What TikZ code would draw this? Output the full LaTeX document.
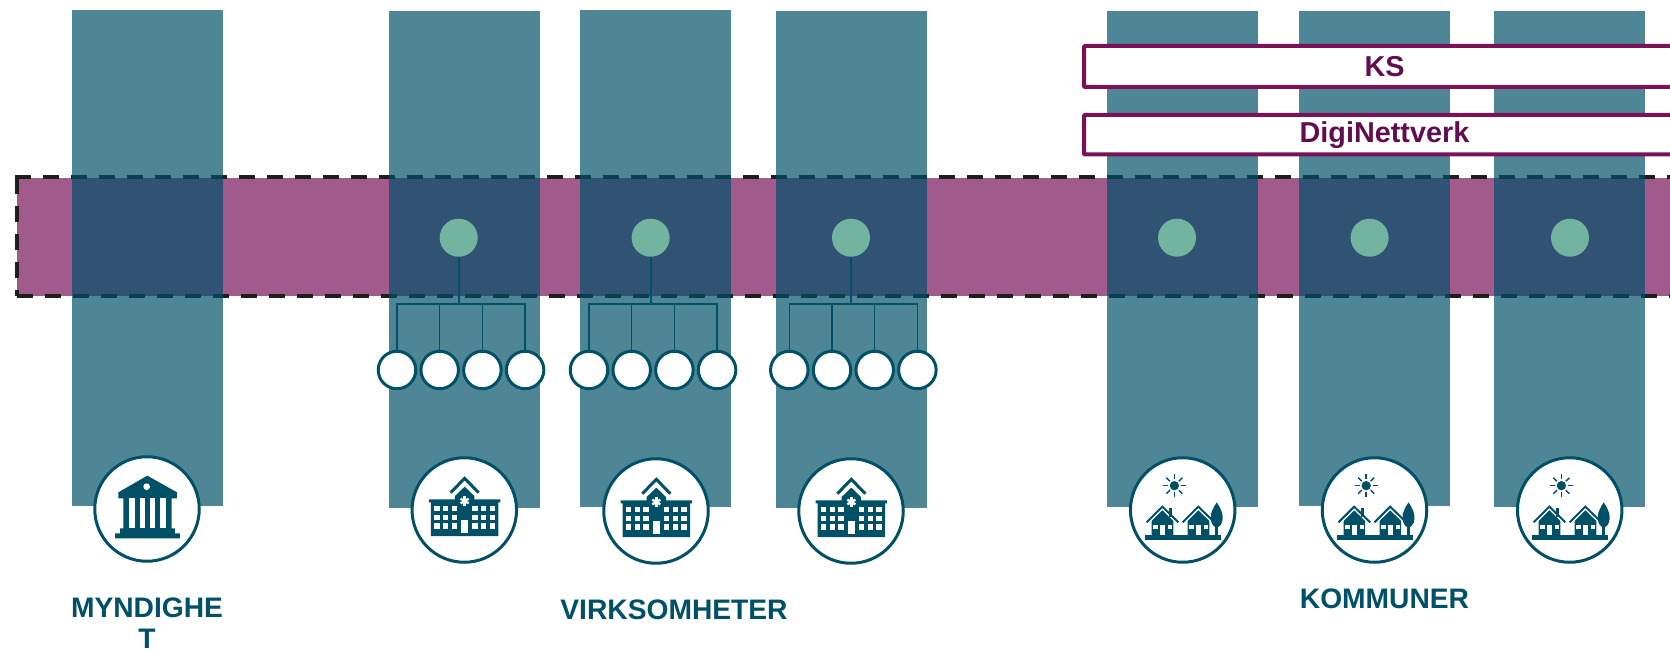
\documentclass[tikz,border=0pt]{standalone}
\usepackage{fontspec}
\setmainfont{Liberation Sans}
\definecolor{deep}{HTML}{005068}
\definecolor{bandc}{HTML}{A05A8C}
\definecolor{greenc}{HTML}{73B4A0}
\definecolor{boxc}{HTML}{7A1259}
\definecolor{boxt}{HTML}{5F0F50}
\definecolor{dashc}{HTML}{1E1E1E}
\tikzset{
  x=1pt,y=-1pt,
  colbar/.style={draw=none,fill=deep,fill opacity=.69,inner sep=0,minimum width=151pt,anchor=north},
  hub/.style={circle,fill=greenc,draw=none,inner sep=0,minimum size=38pt},
  leaf/.style={circle,fill=white,draw=deep,line width=3pt,inner sep=0,minimum size=37.5pt},
  bigc/.style={circle,fill=white,draw=deep,line width=3pt,inner sep=0,minimum size=104.5pt},
  trunk/.style={draw=deep,line width=2pt},
  twig/.style={draw=deep,line width=1.3pt},
  namebox/.style={draw=boxc,line width=4pt,fill=white,rounded corners=1pt,inner sep=0,anchor=north west,minimum width=640pt},
  boxlabel/.style={text=boxt,font=\fontsize{28.8}{33}\selectfont\bfseries,inner sep=0},
  grouplabel/.style={text=deep,font=\fontsize{28.2}{31}\selectfont\bfseries,align=center,inner sep=0},
  bankicon/.pic={
    \begin{scope}[x=.3333pt,y=-.3333pt,shift={(-261,-207)}]
      \fill[deep] (262,107) -- (351,157) -- (351,175) -- (345,175) -- (335,175) -- (335,265) -- (345,265) -- (345,280) -- (360,280) -- (360,295) -- (165,295) -- (165,280) -- (180,280) -- (180,265) -- (190,265) -- (190,175) -- (175,175) -- (175,157) -- cycle;
      \fill[white] (260,140) circle (10);
      \foreach \a in {208,239,270,301} \fill[white] (\a,175) rectangle ++(16,90);
    \end{scope}
  },
  schoolicon/.pic={
    \begin{scope}[x=.3333pt,y=-.3333pt,shift={(-1213,-210)}]
      \draw[deep,line width=3pt] (1172,158) -- (1214,115) -- (1256,158);
      \fill[deep] (1214,140) -- (1243,168) -- (1243,178) -- (1321,178) -- (1321,187) -- (1315,187) -- (1315,288) -- (1113,288) -- (1113,187) -- (1107,187) -- (1107,178) -- (1185,178) -- (1185,168) -- cycle;
      \foreach \a in {1123,1149,1175,1237,1263,1289}
        \foreach \b in {198,224,250} \fill[white] (\a,\b) rectangle ++(16,16);
      \fill[white] (1203,240) rectangle (1225,278);
      \foreach \r in {0,60,120} \draw[white,line width=2.4pt,rotate around={\r:(1214,183)}] (1214,169) -- (1214,197);
    \end{scope}
  },
  villageicon/.pic={
    \begin{scope}[x=.3333pt,y=-.3333pt,shift={(-218,-180)}]
      \fill[deep] (193,107) circle (14);
      \foreach \r in {0,45,...,315} \draw[deep,line width=1.4pt,rotate around={\r:(193,107)}] (193,88) -- (193,73);
      \foreach \d in {0,108} {
        \begin{scope}[shift={(\d,0)}]
          \draw[deep,line width=2pt] (110,217) -- (157,170) -- (205,217);
          \fill[deep] (157,181) -- (190,213) -- (190,258) -- (125,258) -- (125,213) -- cycle;
          \fill[white] (130,226) rectangle (144,238);
          \fill[white] (150,226) rectangle (165,256);
          \fill[white] (173,226) rectangle (187,238);
        \end{scope}
      }
      \fill[deep] (177,175) rectangle (187,200);
      \fill[deep] (105,256) rectangle (333,270);
      \fill[deep] (316,225) rectangle (324,258);
      \fill[deep] (320,157) .. controls (330,172) and (339,188) .. (338,205) .. controls (337,222) and (328,232) .. (320,232) .. controls (312,232) and (303,222) .. (302,205) .. controls (301,188) and (310,172) .. (320,157) -- cycle;
    \end{scope}
  }
}
\begin{document}
\begin{tikzpicture}
\clip (0,0) rectangle (1670,652);
\fill[white] (0,0) rectangle (1670,652);
% band
\fill[bandc] (17,178) rectangle (1680,296.5);
\draw[dashc,line width=4pt,dash pattern=on 16pt off 12pt] (15,177.5) -- (1690,177.5);
\draw[dashc,line width=4pt,dash pattern=on 16pt off 12pt] (17,296.5) -- (1690,296.5);
\draw[dashc,line width=4pt,dash pattern=on 16pt off 12pt] (16.5,178) -- (16.5,296.5);
% columns
\node[colbar,minimum height=496pt] (col0) at (147.5,10) {};
\node[colbar,minimum height=497pt] (col1) at (464.5,11) {};
\node[colbar,minimum height=497pt] (col2) at (655.5,10) {};
\node[colbar,minimum height=497pt] (col3) at (851.5,11) {};
\node[colbar,minimum height=496pt] (col4) at (1182.5,11) {};
\node[colbar,minimum height=495pt] (col5) at (1374.5,11) {};
\node[colbar,minimum height=496pt] (col6) at (1569.5,11) {};
% name boxes
\node[namebox,minimum height=41pt] (ks) at (1082,44) {};
\node[namebox,minimum height=39.5pt] (dn) at (1082,113) {};
\node[boxlabel] (kst) at (1384.5,67) {KS};
\node[boxlabel] (dnt) at (1384.5,135) {DigiNettverk};
% hubs
\node[hub] (h1) at (458.7,237.7) {};
\node[hub] (h2) at (650.6,237.7) {};
\node[hub] (h3) at (851,237.7) {};
\node[hub] (h4) at (1177,237.7) {};
\node[hub] (h5) at (1369.6,237.7) {};
\node[hub] (h6) at (1570,237.7) {};
% trees
\coordinate (b1) at (458.7,304);
\coordinate (b2) at (650.6,304);
\coordinate (b3) at (851,304);
\node[leaf] (l11) at (397,370) {};
\node[leaf] (l12) at (439.7,370) {};
\node[leaf] (l13) at (482.4,370) {};
\node[leaf] (l14) at (525.1,370) {};
\node[leaf] (l21) at (589,370) {};
\node[leaf] (l22) at (631.7,370) {};
\node[leaf] (l23) at (674.4,370) {};
\node[leaf] (l24) at (717.1,370) {};
\node[leaf] (l31) at (789.3,370) {};
\node[leaf] (l32) at (832,370) {};
\node[leaf] (l33) at (874.7,370) {};
\node[leaf] (l34) at (917.4,370) {};
\foreach \g in {1,2,3} {
  \draw[trunk] (h\g) -- (b\g);
  \foreach \k in {1,2,3,4} \draw[twig] (l\g\k.north) |- (b\g);
}
% big circles
\node[bigc] (c0) at (147,509) {};
\node[bigc] (c1) at (464.3,510) {};
\node[bigc] (c2) at (656,511) {};
\node[bigc] (c3) at (851,511) {};
\node[bigc] (c4) at (1182.7,510) {};
\node[bigc] (c5) at (1374.5,510) {};
\node[bigc] (c6) at (1569.7,510) {};
\pic at (c0) {bankicon};
\pic at (c1) {schoolicon};
\pic at (c2) {schoolicon};
\pic at (c3) {schoolicon};
\pic at (c4) {villageicon};
\pic at (c5) {villageicon};
\pic at (c6) {villageicon};
% labels
\node[grouplabel] (myn) at (147,623) {MYNDIGHE\\T};
\node[grouplabel] (vir) at (674,610) {VIRKSOMHETER};
\node[grouplabel] (kom) at (1384.5,599) {KOMMUNER};
\end{tikzpicture}
\end{document}
